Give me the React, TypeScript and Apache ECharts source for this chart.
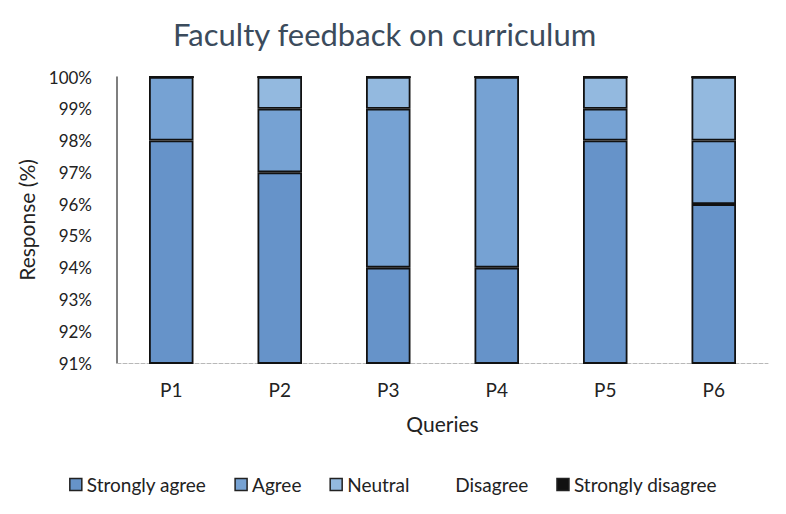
import React, { useEffect, useRef } from "react";
import * as echarts from "echarts";

const categories = ["P1", "P2", "P3", "P4", "P5", "P6"];
const stronglyAgree = [98, 97, 94, 94, 98, 96];
const agree = [2, 2, 5, 6, 1, 2];
const neutral = [0, 1, 1, 0, 1, 2];
const disagree = [0, 0, 0, 0, 0, 0];
const stronglyDisagree = [0, 0, 0, 0, 0, 0];
const seriesNames = ["Strongly agree", "Agree", "Neutral", "Disagree", "Strongly disagree"];
const seriesData = [stronglyAgree, agree, neutral, disagree, stronglyDisagree];
const colors = ["#6693c9", "#76a2d3", "#93b9df", "#ffffff", "#111111"];

const FONT = "Lato";

export default function App() {
  const ref = useRef<HTMLDivElement>(null);
  useEffect(() => {
    if (!ref.current) return;
    const chart = echarts.init(ref.current, null, { renderer: "svg" });
    chart.setOption({
      animation: false,
      backgroundColor: "#ffffff",
      title: {
        text: "Faculty feedback on curriculum",
        left: 160,
        top: 5,
        textStyle: { fontFamily: FONT, fontSize: 31, fontWeight: "normal", color: "#3b4b5c" },
      },
      grid: { left: 100, right: 10, top: 69, bottom: 143 },
      legend: {
        bottom: 7,
        left: "center",
        itemWidth: 12,
        itemHeight: 12,
        itemGap: 28,
        icon: "rect",
        textStyle: { fontFamily: FONT, fontSize: 19, color: "#222" },
        data: seriesNames.map((n, i) => ({
          name: n,
          itemStyle: {
            color: colors[i],
            borderColor: i === 3 ? "#ffffff" : "#222",
            borderWidth: 1.5,
          },
        })),
      },
      xAxis: {
        type: "category",
        data: categories,
        name: "Queries",
        nameLocation: "middle",
        nameGap: 50,
        nameTextStyle: { fontFamily: FONT, fontSize: 21, color: "#222" },
        axisLine: { lineStyle: { color: "#b8b8b8", type: "dashed" } },
        axisTick: { show: false },
        axisLabel: { fontFamily: FONT, fontSize: 19, color: "#222", margin: 17 },
      },
      yAxis: {
        type: "value",
        min: 91,
        max: 100,
        interval: 1,
        name: "Response (%)",
        nameLocation: "middle",
        nameGap: 80,
        nameTextStyle: { fontFamily: FONT, fontSize: 21, color: "#222" },
        axisLine: { show: true, lineStyle: { color: "#555", width: 1.5 } },
        axisTick: { show: false },
        splitLine: { show: false },
        axisLabel: { fontFamily: FONT, fontSize: 17, color: "#222", margin: 25, formatter: "{value}%" },
      },
      series: seriesNames.map((n, i) => ({
        name: n,
        type: "bar",
        stack: "total",
        barWidth: "41%",
        data: seriesData[i],
        itemStyle: { color: colors[i], borderColor: "#111", borderWidth: 1.8 },
      })),
    });
    return () => chart.dispose();
  }, []);
  return <div ref={ref} style={{ width: 770, height: 498 }} />;
}
